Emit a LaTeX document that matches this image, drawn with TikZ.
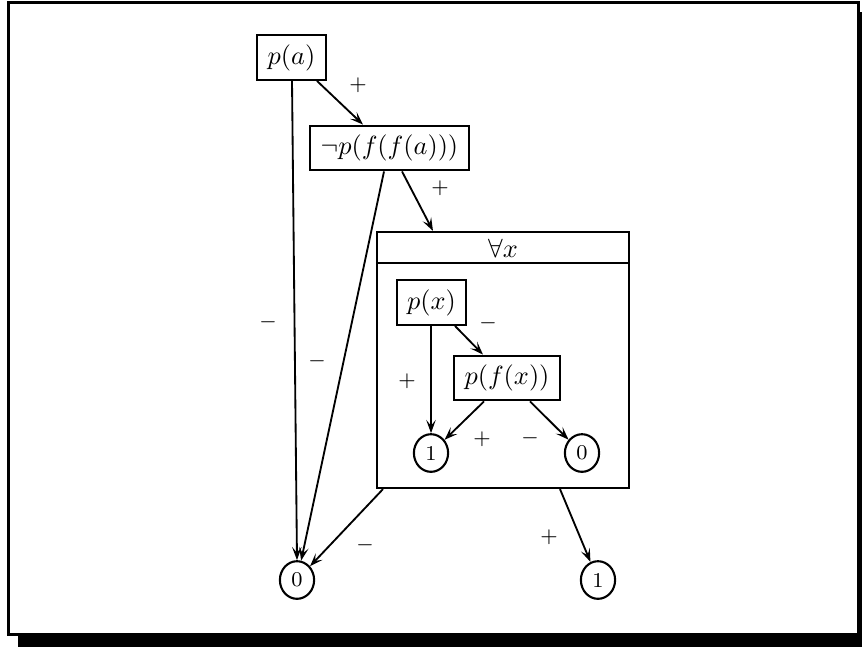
\documentclass[tikz,border=0pt]{standalone}
\usetikzlibrary{arrows.meta,shapes.geometric,calc}

\tikzset{
  termbox/.style={draw, line width=0.8pt, inner xsep=4pt, minimum height=17pt},
  leaf/.style={draw, ellipse, line width=0.8pt, inner sep=0pt,
               minimum width=13pt, minimum height=14.3pt, font=\footnotesize},
  sign/.style={font=\footnotesize, inner sep=1pt},
  edge/.style={line width=0.7pt, -{Stealth[length=5pt,width=3.6pt,inset=2.2pt]}},
}

\begin{document}
\begin{tikzpicture}[x=0.38pt, y=-0.38pt]
  \useasboundingbox (0,0) rectangle (862,646);

  % page frame with drop shadow
  \fill[black] (18,12) rectangle (872,650);
  \filldraw[fill=white, draw=black, line width=1.1pt] (8.5,2.5) rectangle (858.5,634.5);

  % formula nodes
  \node[termbox] (pa)  at (291.5,57.5) {$p(a)$};
  \node[termbox] (np)  at (389.5,148)  {$\neg p(f(f(a)))$};

  % quantifier block
  \node[draw, line width=0.8pt, minimum width=95.8pt, minimum height=97.3pt, inner sep=0pt]
        (fa) at (503,360) {};
  \draw[line width=0.8pt] ($(fa.north west)+(0,32)$) -- ($(fa.north east)+(0,32)$);
  \node (fahead) at (503,248) {$\forall x$};

  \node[termbox] (px)  at (431.5,302.5) {$p(x)$};
  \node[termbox] (pfx) at (507,378)     {$p(f(x))$};
  \node[leaf] (one1)  at (431,453) {1};
  \node[leaf] (zero1) at (582,453) {0};

  % terminal leaves
  \node[leaf] (zero2) at (297,580) {0};
  \node[leaf] (one2)  at (598,580) {1};

  % connectors
  \draw[edge] ($(pa.south)+(25.5,0)$) -- ($(np.north)+(-26.5,0)$);
  \draw[edge] ($(pa.south)+(0.5,0)$) -- (zero2.north);
  \draw[edge] ($(np.south)+(-5.5,0)$) -- (zero2);
  \draw[edge] ($(np.south)+(12.5,0)$) -- ($(fa.north)+(-70,0)$);
  \draw[edge] ($(fa.south)+(-120,0)$) -- (zero2);
  \draw[edge] ($(fa.south)+(57,0)$) -- (one2);
  \draw[edge] ($(px.south)+(-0.5,0)$) -- (one1.north);
  \draw[edge] ($(px.south)+(23.5,0)$) -- ($(pfx.north)+(-24,0)$);
  \draw[edge] ($(pfx.south)+(-23,0)$) -- (one1);
  \draw[edge] ($(pfx.south)+(23,0)$) -- (zero1);

  % branch signs
  \node[sign] (s1)  at (358,85)  {$+$};
  \node[sign] (s2)  at (268,322) {$-$};
  \node[sign] (s3)  at (317,361) {$-$};
  \node[sign] (s4)  at (440,188) {$+$};
  \node[sign] (s5)  at (365,545) {$-$};
  \node[sign] (s6)  at (549,537) {$+$};
  \node[sign] (s7)  at (407,381) {$+$};
  \node[sign] (s8)  at (488,323) {$-$};
  \node[sign] (s9)  at (482,439) {$+$};
  \node[sign] (s10) at (530,438) {$-$};
\end{tikzpicture}
\end{document}
